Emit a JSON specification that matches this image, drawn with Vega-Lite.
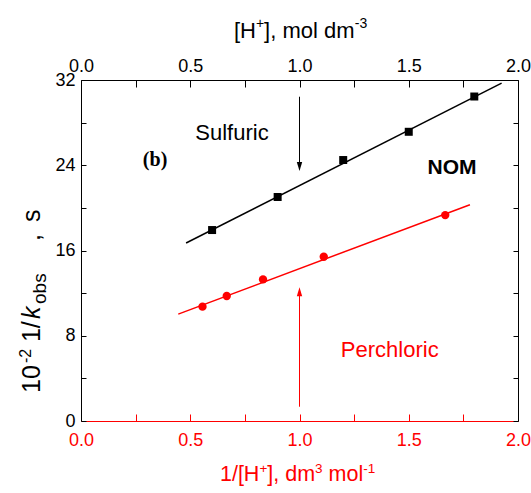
{
  "$schema": "https://vega.github.io/schema/vega-lite/v6.json",
  "width": 437,
  "height": 341,
  "autosize": {"type": "none"},
  "padding": {"left": 81, "top": 80, "right": 13, "bottom": 72},
  "background": "white",
  "config": {
    "view": {"stroke": null},
    "text": {"font": "Liberation Sans"},
    "axis": {"grid": false, "labelFont": "Liberation Sans", "labelFontSize": 18, "labelFlush": false, "labelOverlap": false, "domainWidth": 1, "tickWidth": 1}
  },
  "datasets": {
    "sulfuric": [
      {"h": 0.6, "t": 17.92}, {"h": 0.9, "t": 21.02}, {"h": 1.2, "t": 24.49}, {"h": 1.5, "t": 27.14}, {"h": 1.8, "t": 30.45}
    ],
    "perchloric": [
      {"inv": 0.556, "t": 10.73}, {"inv": 0.667, "t": 11.73}, {"inv": 0.833, "t": 13.29}, {"inv": 1.111, "t": 15.41}, {"inv": 1.667, "t": 19.32}
    ],
    "sulfuricFit": [{"h": 0.481, "t": 16.7}, {"h": 1.925, "t": 31.7}],
    "perchloricFit": [{"inv": 0.445, "t": 10.03}, {"inv": 1.78, "t": 20.3}],
    "one": [{}]
  },
  "layer": [
    {
      "layer": [
        {
          "data": {"name": "sulfuricFit"},
          "mark": {"type": "line", "color": "black", "strokeWidth": 1.5},
          "encoding": {
            "x": {"field": "h", "type": "quantitative", "scale": {"domain": [0, 2], "nice": false},
              "axis": {"orient": "top", "title": null, "values": [0, 0.25, 0.5, 0.75, 1, 1.25, 1.5, 1.75, 2],
                "labelExpr": "datum.value % 0.5 == 0 ? format(datum.value, '.1f') : ''",
                "tickSize": -7,
                "encode": {"ticks": {"update": {"y2": {"signal": "datum.value % 0.5 != 0 ? 4 : 7"}}}},
                "labelPadding": 12, "tickColor": "black", "domainColor": "black", "labelColor": "black"}},
            "y": {"field": "t", "type": "quantitative", "scale": {"domain": [0, 32], "nice": false},
              "axis": {"orient": "left", "title": null, "values": [0, 4, 8, 12, 16, 20, 24, 28, 32],
                "labelExpr": "datum.value % 8 == 0 ? datum.label : ''",
                "tickSize": -5, "labelPadding": 11, "tickColor": "black", "domainColor": "black", "labelColor": "black"}}
          }
        },
        {
          "data": {"name": "sulfuric"},
          "mark": {"type": "square", "filled": true, "size": 64, "color": "black", "opacity": 1},
          "encoding": {
            "x": {"field": "h", "type": "quantitative"},
            "y": {"field": "t", "type": "quantitative"}
          }
        },
        {
          "data": {"name": "one"},
          "mark": {"type": "rule", "color": "black", "strokeWidth": 1},
          "encoding": {"x": {"datum": 1.0}, "y": {"datum": 30.43}, "y2": {"datum": 24.2}}
        },
        {
          "data": {"name": "one"},
          "mark": {"type": "point", "shape": "M-0.6,-2L0.6,-2L0,0Z", "filled": true, "size": 81, "color": "black", "opacity": 1},
          "encoding": {"x": {"datum": 1.0}, "y": {"datum": 23.46}}
        },
        {
          "data": {"name": "one"},
          "mark": {"type": "text", "text": "Sulfuric", "fontSize": 22, "align": "center", "baseline": "middle", "color": "black"},
          "encoding": {"x": {"datum": 0.691}, "y": {"datum": 26.98}}
        },
        {
          "data": {"name": "one"},
          "mark": {"type": "text", "text": "NOM", "fontSize": 21, "fontWeight": "bold", "align": "center", "baseline": "middle", "color": "black"},
          "encoding": {"x": {"datum": 1.698}, "y": {"datum": 23.76}}
        },
        {
          "data": {"name": "one"},
          "mark": {"type": "text", "text": "(b)", "font": "Liberation Serif", "fontSize": 20, "fontWeight": "bold", "align": "center", "baseline": "middle", "color": "black"},
          "encoding": {"x": {"datum": 0.339}, "y": {"datum": 24.5}}
        },
        {
          "data": {"name": "one"},
          "mark": {"type": "text", "text": "[H", "fontSize": 22, "align": "left", "baseline": "alphabetic", "color": "black"},
          "encoding": {"x": {"datum": 0.7}, "y": {"datum": 35.98}}
        },
        {
          "data": {"name": "one"},
          "mark": {"type": "text", "text": "+", "fontSize": 14, "align": "left", "baseline": "alphabetic", "color": "black"},
          "encoding": {"x": {"datum": 0.801}, "y": {"datum": 36.84}}
        },
        {
          "data": {"name": "one"},
          "mark": {"type": "text", "text": "], mol dm", "fontSize": 22, "align": "left", "baseline": "alphabetic", "color": "black"},
          "encoding": {"x": {"datum": 0.838}, "y": {"datum": 35.98}}
        },
        {
          "data": {"name": "one"},
          "mark": {"type": "text", "text": "-3", "fontSize": 14, "align": "left", "baseline": "alphabetic", "color": "black"},
          "encoding": {"x": {"datum": 1.253}, "y": {"datum": 36.84}}
        },
        {
          "data": {"name": "one"},
          "mark": {"type": "text", "text": "10", "fontSize": 25, "angle": 270, "align": "left", "baseline": "alphabetic", "color": "black"},
          "encoding": {"x": {"datum": -0.188}, "y": {"datum": 2.63}}
        },
        {
          "data": {"name": "one"},
          "mark": {"type": "text", "text": "-2", "fontSize": 16, "angle": 270, "align": "left", "baseline": "alphabetic", "color": "black"},
          "encoding": {"x": {"datum": -0.231}, "y": {"datum": 5.44}}
        },
        {
          "data": {"name": "one"},
          "mark": {"type": "text", "text": "1/", "fontSize": 25, "angle": 270, "align": "left", "baseline": "alphabetic", "color": "black"},
          "encoding": {"x": {"datum": -0.188}, "y": {"datum": 7.41}}
        },
        {
          "data": {"name": "one"},
          "mark": {"type": "text", "text": "k", "fontSize": 25, "fontStyle": "italic", "angle": 270, "align": "left", "baseline": "alphabetic", "color": "black"},
          "encoding": {"x": {"datum": -0.188}, "y": {"datum": 9.57}}
        },
        {
          "data": {"name": "one"},
          "mark": {"type": "text", "text": "obs", "fontSize": 19, "angle": 270, "align": "left", "baseline": "alphabetic", "color": "black"},
          "encoding": {"x": {"datum": -0.158}, "y": {"datum": 10.98}}
        },
        {
          "data": {"name": "one"},
          "mark": {"type": "text", "text": ",", "fontSize": 25, "angle": 270, "align": "left", "baseline": "alphabetic", "color": "black"},
          "encoding": {"x": {"datum": -0.188}, "y": {"datum": 16.89}}
        },
        {
          "data": {"name": "one"},
          "mark": {"type": "text", "text": "s", "fontSize": 25, "angle": 270, "align": "left", "baseline": "alphabetic", "color": "black"},
          "encoding": {"x": {"datum": -0.188}, "y": {"datum": 18.67}}
        }
      ]
    },
    {
      "layer": [
        {
          "data": {"name": "perchloricFit"},
          "mark": {"type": "line", "color": "#ff0000", "strokeWidth": 1.5},
          "encoding": {
            "x": {"field": "inv", "type": "quantitative", "scale": {"domain": [0, 2], "nice": false},
              "axis": {"orient": "bottom", "title": null, "values": [0, 0.25, 0.5, 0.75, 1, 1.25, 1.5, 1.75, 2],
                "labelExpr": "datum.value % 0.5 == 0 ? format(datum.value, '.1f') : ''",
                "tickSize": -7,
                "encode": {"ticks": {"update": {"y2": {"signal": "datum.value % 0.5 != 0 ? -4 : -7"}}}},
                "labelPadding": 17, "tickColor": "#ff0000", "domainColor": "#ff0000", "labelColor": "#ff0000"}},
            "y": {"field": "t", "type": "quantitative", "scale": {"domain": [0, 32], "nice": false},
              "axis": {"orient": "right", "title": null, "values": [0, 4, 8, 12, 16, 20, 24, 28, 32], "labels": false,
                "tickSize": -5, "tickColor": "black", "domainColor": "black"}}
          }
        },
        {
          "data": {"name": "perchloric"},
          "mark": {"type": "circle", "size": 70, "color": "#ff0000", "opacity": 1},
          "encoding": {
            "x": {"field": "inv", "type": "quantitative"},
            "y": {"field": "t", "type": "quantitative"}
          }
        },
        {
          "data": {"name": "one"},
          "mark": {"type": "rule", "color": "#ff0000", "strokeWidth": 1},
          "encoding": {"x": {"datum": 1.0}, "y": {"datum": 1.34}, "y2": {"datum": 11.8}}
        },
        {
          "data": {"name": "one"},
          "mark": {"type": "point", "shape": "M-0.6,2L0.6,2L0,0Z", "filled": true, "size": 81, "color": "#ff0000", "opacity": 1},
          "encoding": {"x": {"datum": 1.0}, "y": {"datum": 12.54}}
        },
        {
          "data": {"name": "one"},
          "mark": {"type": "text", "text": "Perchloric", "fontSize": 22, "align": "center", "baseline": "middle", "color": "#ff0000"},
          "encoding": {"x": {"datum": 1.413}, "y": {"datum": 6.62}}
        },
        {
          "data": {"name": "one"},
          "mark": {"type": "text", "text": "1/[H", "fontSize": 21.5, "align": "left", "baseline": "alphabetic", "color": "#ff0000"},
          "encoding": {"x": {"datum": 0.636}, "y": {"datum": -5.66}}
        },
        {
          "data": {"name": "one"},
          "mark": {"type": "text", "text": "+", "fontSize": 13.5, "align": "left", "baseline": "alphabetic", "color": "#ff0000"},
          "encoding": {"x": {"datum": 0.8165}, "y": {"datum": -4.86}}
        },
        {
          "data": {"name": "one"},
          "mark": {"type": "text", "text": "], dm", "fontSize": 21.5, "align": "left", "baseline": "alphabetic", "color": "#ff0000"},
          "encoding": {"x": {"datum": 0.8526}, "y": {"datum": -5.66}}
        },
        {
          "data": {"name": "one"},
          "mark": {"type": "text", "text": "3", "fontSize": 13.5, "align": "left", "baseline": "alphabetic", "color": "#ff0000"},
          "encoding": {"x": {"datum": 1.0714}, "y": {"datum": -4.86}}
        },
        {
          "data": {"name": "one"},
          "mark": {"type": "text", "text": "mol", "fontSize": 21.5, "align": "left", "baseline": "alphabetic", "color": "#ff0000"},
          "encoding": {"x": {"datum": 1.1332}, "y": {"datum": -5.66}}
        },
        {
          "data": {"name": "one"},
          "mark": {"type": "text", "text": "-1", "fontSize": 13.5, "align": "left", "baseline": "alphabetic", "color": "#ff0000"},
          "encoding": {"x": {"datum": 1.2915}, "y": {"datum": -4.86}}
        }
      ]
    }
  ],
  "resolve": {"scale": {"x": "independent", "y": "independent"}}
}
